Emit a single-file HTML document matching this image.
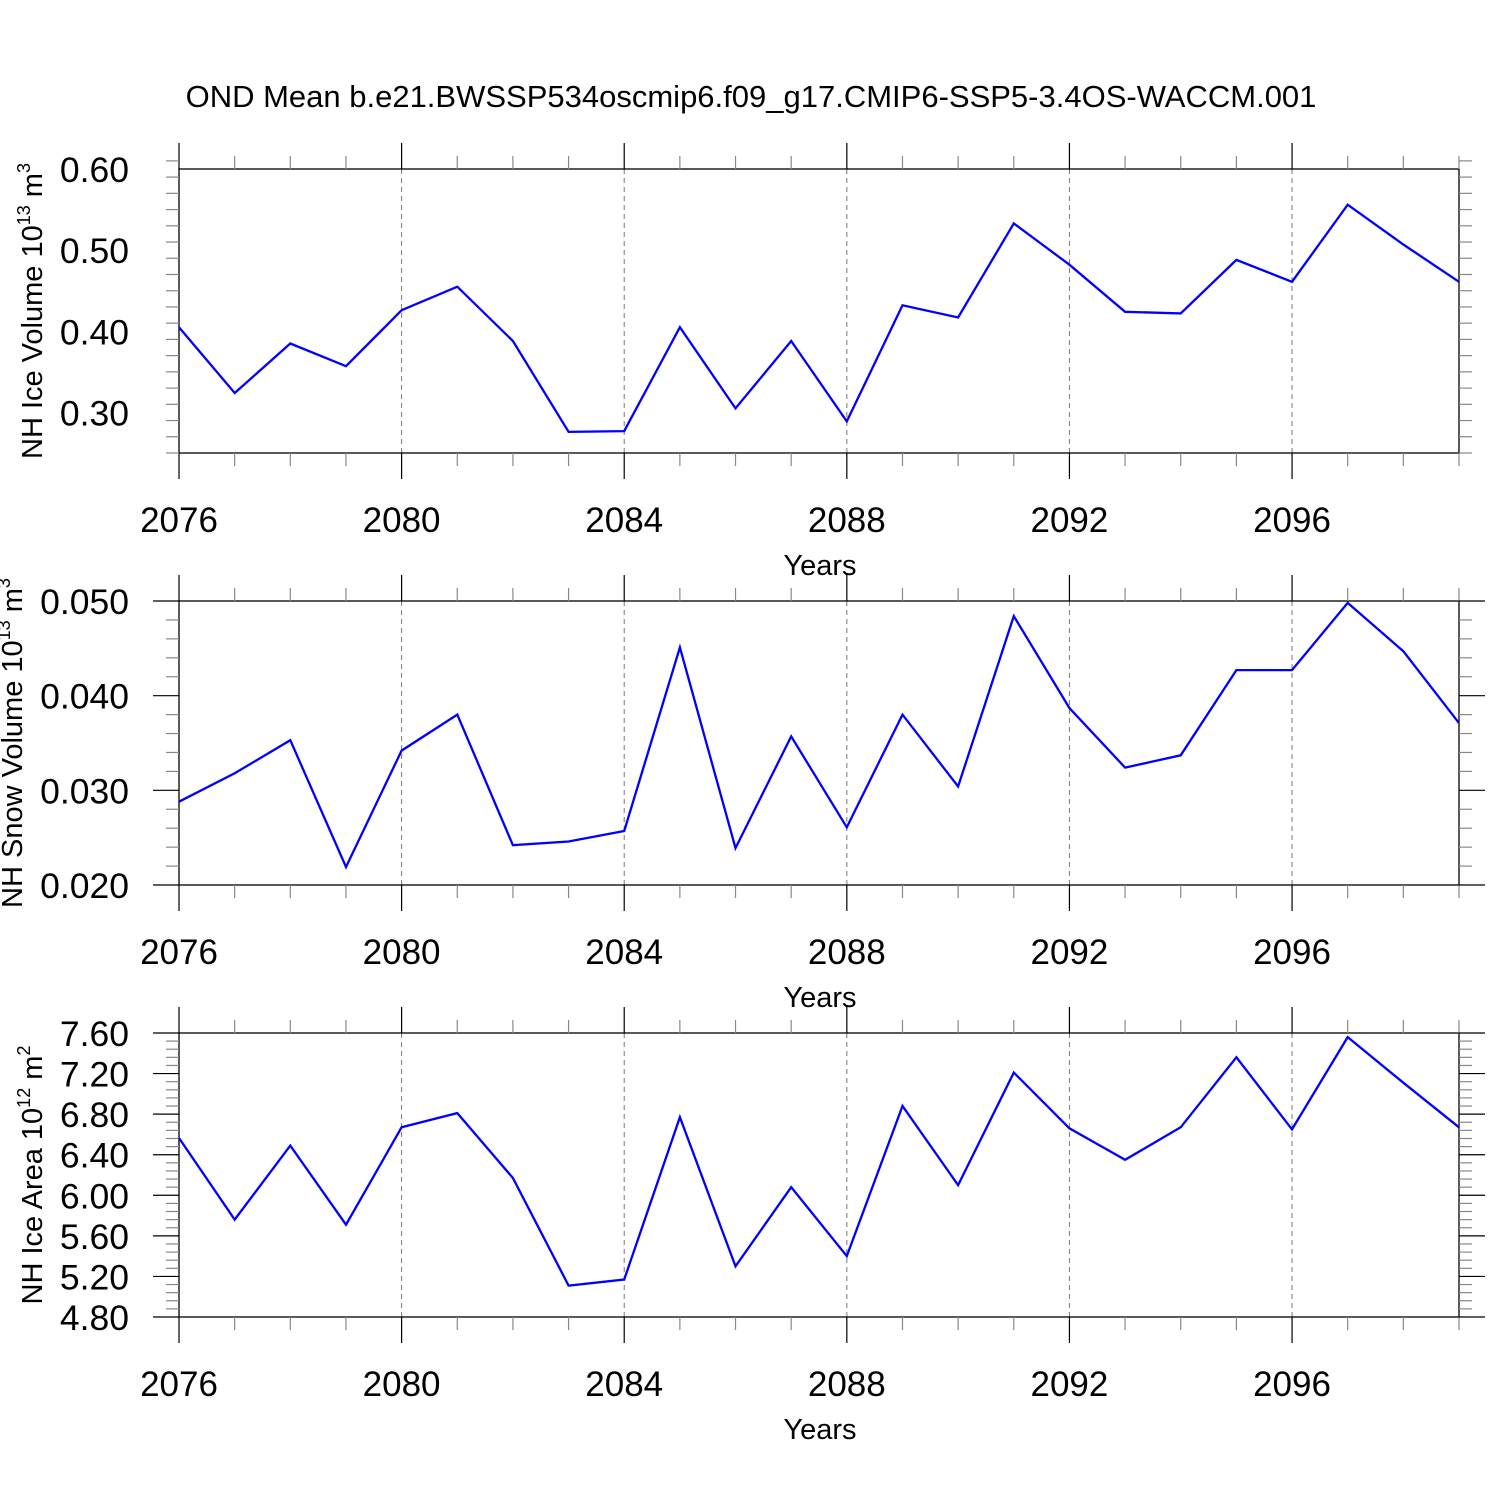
<!DOCTYPE html>
<html><head><meta charset="utf-8"><style>
html,body{margin:0;padding:0;background:#fff;}
svg{display:block;font-family:"Liberation Sans",sans-serif;}
</style></head><body>
<svg id="chart" width="1500" height="1500" viewBox="0 0 1500 1500">
<rect width="1500" height="1500" fill="#fff"/>
<text x="751" y="107" font-size="31" text-anchor="middle">OND Mean b.e21.BWSSP534oscmip6.f09_g17.CMIP6-SSP5-3.4OS-WACCM.001</text>
</svg>
<script>
const years = [2076,2077,2078,2079,2080,2081,2082,2083,2084,2085,2086,2087,2088,2089,2090,2091,2092,2093,2094,2095,2096,2097,2098,2099];
const xTicks = [2076,2080,2084,2088,2092,2096];
const iceVolume = [0.405,0.324,0.385,0.357,0.426,0.455,0.388,0.276,0.277,0.405,0.305,0.388,0.289,0.432,0.417,0.533,0.482,0.424,0.422,0.488,0.461,0.556,0.507,0.461];
const snowVolume = [0.0288,0.0318,0.0353,0.0219,0.0342,0.0380,0.0242,0.0246,0.0257,0.0451,0.0239,0.0357,0.0261,0.0380,0.0304,0.0484,0.0387,0.0324,0.0337,0.0427,0.0427,0.0498,0.0447,0.0371];
const iceArea = [6.565,5.76,6.49,5.71,6.67,6.81,6.17,5.11,5.17,6.77,5.30,6.08,5.40,6.88,6.10,7.21,6.66,6.35,6.67,7.36,6.65,7.56,7.11,6.67];
const iceVolTicks = [0.30,0.40,0.50,0.60];
const snowTicks = [0.020,0.030,0.040,0.050];
const areaTicks = [4.80,5.20,5.60,6.00,6.40,6.80,7.20,7.60];

const NS='http://www.w3.org/2000/svg';
const svg=document.getElementById('chart');
function el(tag,attrs,parent){const e=document.createElementNS(NS,tag);for(const k in attrs)e.setAttribute(k,attrs[k]);(parent||svg).appendChild(e);return e;}

const X0=179,X1=1459;
function xs(v){return X0+(v-2076)/(2099-2076)*(X1-X0);}

function panel(name,top,bot,ymin,ymax,yticks,minorStep,dec,values,labelParts){
  const g=el('g',{});
  
  
  const ys=v=>bot-(v-ymin)/(ymax-ymin)*(bot-top);
  xTicks.forEach(t=>{ if(t===2076) return;
    const l=el('line',{x1:xs(t),x2:xs(t),y1:top,y2:bot,stroke:'#777','stroke-width':1,'stroke-dasharray':'5,4'},g);
    
    
  });
  const b=el('rect',{x:X0,y:top,width:X1-X0,height:bot-top,fill:'none',stroke:'#000','stroke-width':1.3},g);
  
  
  years.forEach(yv=>{
    const maj=xTicks.includes(yv);const len=maj?26:13;const c=maj?'#000':'#888';
    el('line',{x1:xs(yv),x2:xs(yv),y1:top-len,y2:top,stroke:c,'stroke-width':1.2},g);
    el('line',{x1:xs(yv),x2:xs(yv),y1:bot,y2:bot+len,stroke:c,'stroke-width':1.2},g);
  });
  xTicks.forEach(t=>{
    const tx=el('text',{x:xs(t),y:bot+79,'font-size':35,'text-anchor':'middle'},g);
    tx.textContent=t;
    
    
  });
  const xt=el('text',{x:820,y:bot+122,'font-size':29,'text-anchor':'middle'},g);
  xt.textContent='Years';
  
  
  const n=Math.round((ymax-ymin)/minorStep);
  for(let i=0;i<=n;i++){
    const v=ymin+i*minorStep;
    const maj=yticks.some(t=>Math.abs(t-v)<minorStep/10);
    const len=maj?26:13;const c=maj?'#000':'#888';
    el('line',{x1:X0-len,x2:X0,y1:ys(v),y2:ys(v),stroke:c,'stroke-width':1.2},g);
    el('line',{x1:X1,x2:X1+len,y1:ys(v),y2:ys(v),stroke:c,'stroke-width':1.2},g);
  }
  yticks.forEach(t=>{
    const tx=el('text',{x:129,y:ys(t)+13,'font-size':35.5,'text-anchor':'end'},g);
    tx.textContent=t.toFixed(dec);
    
    
  });
  const cy=(top+bot)/2;
  const yt=el('text',{x:0,y:0,'font-size':29,'text-anchor':'middle',transform:`translate(${labelParts[3]},${cy}) rotate(-90)`},g);
  
  
  const t1=el('tspan',{},yt);t1.textContent=labelParts[0];
  const t2=el('tspan',{'font-size':18,dy:-12},yt);t2.textContent=labelParts[1];
  const t3=el('tspan',{dy:12},yt);t3.textContent=' ';
  const t4=el('tspan',{},yt);t4.textContent='m';
  const t5=el('tspan',{'font-size':18,dy:-12},yt);t5.textContent=labelParts[2];
  const pts=values.map((v,i)=>xs(years[i]).toFixed(1)+','+ys(v).toFixed(1)).join(' ');
  const pl=el('polyline',{points:pts,fill:'none',stroke:'#0000ff','stroke-width':2.3,'stroke-linejoin':'miter'},g);
  
  
}
panel('nh-ice-volume',169,453,0.25,0.60,iceVolTicks,0.02,2,iceVolume,['NH Ice Volume 10','13','3',42]);
panel('nh-snow-volume',601,885,0.020,0.050,snowTicks,0.002,3,snowVolume,['NH Snow Volume 10','13','3',22]);
panel('nh-ice-area',1033,1317,4.80,7.60,areaTicks,0.08,2,iceArea,['NH Ice Area 10','12','2',42]);
</script>
</body></html>
